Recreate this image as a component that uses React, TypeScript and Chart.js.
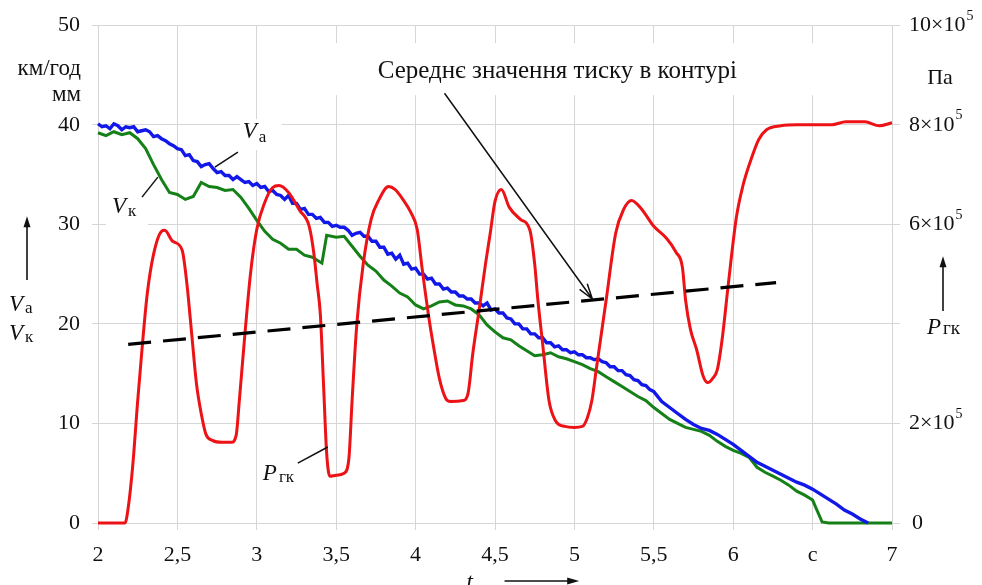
import React, { useEffect, useRef } from "react";
import { Chart, registerables } from "chart.js";

Chart.register(...registerables);

const SERIF = "'Liberation Serif', 'Times New Roman', serif";
const GRID = "#d6d6d6";
const RED = "rgb(236, 18, 22)";
const BLUE = "rgb(18, 24, 232)";
const GREEN = "rgb(22, 128, 24)";

// Vehicle speed V_а, km/h, against time t, s
const vehicleSpeed: [number, number][] = [
  [2.0, 40.1], [2.025, 39.8], [2.05, 39.9], [2.075, 39.6], [2.1, 40.1], [2.125, 39.9],
  [2.15, 39.5], [2.175, 39.8], [2.2, 39.7], [2.225, 39.8], [2.25, 39.3], [2.275, 39.4],
  [2.3, 39.5], [2.325, 39.3], [2.35, 38.8], [2.375, 38.9], [2.4, 38.6], [2.425, 38.4],
  [2.45, 38.1], [2.475, 37.9], [2.5, 37.6], [2.525, 37.5], [2.55, 36.9], [2.575, 37.0],
  [2.6, 36.4], [2.625, 36.3], [2.65, 35.8], [2.675, 36.0], [2.7, 36.1], [2.725, 35.6],
  [2.75, 35.2], [2.775, 35.3], [2.8, 34.9], [2.825, 34.9], [2.85, 34.5], [2.875, 34.8],
  [2.9, 34.5], [2.925, 34.2], [2.95, 34.3], [2.975, 33.9], [3.0, 34.1], [3.025, 33.7],
  [3.05, 33.8], [3.075, 33.3], [3.1, 33.4], [3.125, 33.0], [3.15, 32.9], [3.175, 32.5],
  [3.2, 32.9], [3.225, 32.1], [3.25, 32.1], [3.275, 31.5], [3.3, 31.6], [3.325, 31.0],
  [3.35, 31.0], [3.375, 30.6], [3.4, 30.7], [3.425, 30.2], [3.45, 30.2], [3.475, 29.8],
  [3.5, 29.9], [3.525, 29.7], [3.55, 29.7], [3.575, 29.4], [3.6, 28.9], [3.625, 29.1],
  [3.65, 29.2], [3.675, 28.8], [3.7, 28.8], [3.725, 28.3], [3.75, 28.3], [3.775, 27.7],
  [3.8, 27.7], [3.825, 27.0], [3.85, 27.1], [3.875, 26.5], [3.9, 26.9], [3.925, 26.0],
  [3.95, 26.1], [3.975, 25.5], [4.0, 25.6], [4.025, 25.0], [4.05, 25.0], [4.075, 24.5],
  [4.1, 24.6], [4.125, 24.0], [4.15, 24.0], [4.175, 23.5], [4.2, 23.6], [4.225, 23.2],
  [4.25, 23.2], [4.275, 22.8], [4.3, 22.8], [4.325, 22.5], [4.35, 22.5], [4.375, 22.1],
  [4.4, 22.1], [4.425, 21.8], [4.45, 22.1], [4.475, 21.4], [4.5, 21.5], [4.525, 21.1],
  [4.55, 21.1], [4.575, 20.6], [4.6, 20.5], [4.625, 20.0], [4.65, 20.0], [4.675, 19.5],
  [4.7, 19.5], [4.725, 19.0], [4.75, 19.0], [4.775, 18.6], [4.8, 18.6], [4.825, 18.1],
  [4.85, 18.1], [4.875, 17.7], [4.9, 17.8], [4.925, 17.4], [4.95, 17.4], [4.975, 17.1],
  [5.0, 17.2], [5.025, 16.9], [5.05, 16.9], [5.075, 16.6], [5.1, 16.6], [5.125, 16.4],
  [5.15, 16.5], [5.175, 16.2], [5.2, 16.1], [5.225, 15.7], [5.25, 15.7], [5.275, 15.3],
  [5.3, 15.3], [5.325, 14.9], [5.35, 14.8], [5.375, 14.4], [5.4, 14.3], [5.425, 13.9],
  [5.45, 13.8], [5.475, 13.4], [5.5, 13.2], [5.55, 12.2], [5.6, 11.6], [5.65, 11.0],
  [5.7, 10.4], [5.75, 9.9], [5.8, 9.5], [5.85, 9.3], [5.9, 8.9], [5.95, 8.4],
  [6.0, 7.9], [6.05, 7.3], [6.1, 6.7], [6.15, 6.1], [6.2, 5.7], [6.25, 5.3],
  [6.3, 4.9], [6.35, 4.5], [6.4, 4.1], [6.45, 3.8], [6.5, 3.4], [6.55, 2.9],
  [6.6, 2.4], [6.65, 1.9], [6.7, 1.3], [6.75, 0.9], [6.8, 0.4], [6.85, 0.0],
];

// Wheel speed V_к, km/h
const wheelSpeed: [number, number][] = [
  [2.0, 39.2], [2.05, 38.9], [2.1, 39.3], [2.15, 39.0], [2.2, 39.2], [2.25, 38.6],
  [2.3, 37.6], [2.35, 36.0], [2.4, 34.5], [2.45, 33.2], [2.5, 33.0], [2.55, 32.5],
  [2.6, 32.8], [2.65, 34.2], [2.7, 33.8], [2.75, 33.7], [2.8, 33.4], [2.85, 33.5],
  [2.9, 32.7], [2.95, 31.6], [3.0, 30.4], [3.05, 29.3], [3.1, 28.5], [3.15, 28.1],
  [3.2, 27.5], [3.25, 27.5], [3.3, 26.9], [3.35, 26.7], [3.41, 26.1], [3.44, 28.9],
  [3.5, 28.7], [3.55, 28.8], [3.6, 27.8], [3.65, 26.8], [3.7, 25.9], [3.75, 25.3],
  [3.8, 24.4], [3.85, 23.8], [3.9, 23.1], [3.95, 22.7], [4.0, 21.9], [4.05, 21.5],
  [4.1, 21.8], [4.15, 22.2], [4.2, 22.3], [4.25, 21.9], [4.3, 21.8], [4.35, 21.5],
  [4.4, 20.9], [4.45, 19.9], [4.5, 19.2], [4.55, 18.6], [4.6, 18.4], [4.65, 17.8],
  [4.7, 17.3], [4.75, 16.8], [4.8, 16.9], [4.85, 17.1], [4.9, 16.7], [4.95, 16.5],
  [5.0, 16.2], [5.05, 15.9], [5.1, 15.5], [5.15, 15.2], [5.2, 14.7], [5.25, 14.2],
  [5.3, 13.7], [5.35, 13.2], [5.4, 12.7], [5.45, 12.3], [5.5, 11.6], [5.55, 11.0],
  [5.6, 10.4], [5.65, 10.0], [5.7, 9.6], [5.75, 9.4], [5.8, 9.2], [5.85, 8.8],
  [5.9, 8.2], [5.95, 7.7], [6.0, 7.3], [6.05, 7.0], [6.1, 6.6], [6.15, 5.6],
  [6.2, 5.1], [6.25, 4.7], [6.3, 4.3], [6.35, 3.8], [6.4, 3.2], [6.45, 2.8],
  [6.5, 2.3], [6.53, 1.2], [6.56, 0.1], [6.6, 0.0], [7.0, 0.0],
];

// Brake circuit pressure P_гк, ×10^5 Pa
const circuitPressure: [number, number][] = [
  [2.0, 0.0], [2.17, 0.0], [2.19, 0.3], [2.22, 1.2], [2.25, 2.46], [2.28, 3.6],
  [2.31, 4.6], [2.35, 5.4], [2.4, 5.86], [2.42, 5.88], [2.47, 5.66], [2.53, 5.48],
  [2.56, 4.8], [2.59, 3.8], [2.62, 2.8], [2.65, 2.2], [2.68, 1.78], [2.72, 1.66],
  [2.78, 1.62], [2.84, 1.62], [2.87, 1.76], [2.89, 2.46], [2.92, 3.6], [2.96, 5.0],
  [3.0, 5.9], [3.05, 6.44], [3.1, 6.74], [3.14, 6.78], [3.2, 6.64], [3.27, 6.28],
  [3.33, 5.96], [3.36, 5.4], [3.38, 4.8], [3.4, 4.2], [3.42, 2.8], [3.44, 1.4],
  [3.46, 0.94], [3.5, 0.96], [3.55, 1.0], [3.58, 1.3], [3.6, 2.46], [3.63, 4.0],
  [3.67, 5.2], [3.72, 6.1], [3.77, 6.5], [3.83, 6.76], [3.87, 6.7], [3.92, 6.5],
  [3.97, 6.24], [4.01, 5.9], [4.04, 5.14], [4.08, 4.2], [4.11, 3.6], [4.15, 2.9],
  [4.19, 2.5], [4.22, 2.44], [4.3, 2.46], [4.33, 2.6], [4.36, 3.4], [4.4, 4.28],
  [4.44, 5.2], [4.47, 5.82], [4.5, 6.46], [4.54, 6.7], [4.59, 6.34], [4.66, 6.1],
  [4.72, 5.88], [4.75, 5.2], [4.77, 4.48], [4.8, 3.6], [4.84, 2.46], [4.88, 2.06],
  [4.94, 1.94], [5.0, 1.92], [5.05, 1.94], [5.08, 2.1], [5.11, 2.46], [5.14, 3.14],
  [5.2, 4.48], [5.26, 5.82], [5.31, 6.3], [5.36, 6.48], [5.42, 6.32], [5.5, 5.96],
  [5.58, 5.72], [5.64, 5.44], [5.68, 5.14], [5.7, 4.48], [5.73, 3.9], [5.77, 3.48],
  [5.81, 2.96], [5.84, 2.82], [5.87, 2.9], [5.9, 3.08], [5.93, 3.68], [5.97, 4.82],
  [6.02, 6.14], [6.06, 6.76], [6.11, 7.28], [6.16, 7.7], [6.21, 7.9], [6.3, 7.98],
  [6.4, 8.0], [6.5, 8.0], [6.62, 8.0], [6.71, 8.06], [6.83, 8.06], [6.92, 7.98],
  [7.0, 8.04],
];

// Mean circuit pressure, ×10^5 Pa
const meanPressure: [number, number][] = [
  [2.19, 3.59],
  [6.27, 4.83],
];

// Right-hand axis labels: value, mantissa (exponent 5 drawn raised)
const pressureTickLabels: [number, string][] = [
  [10, "10×10"],
  [8, "8×10"],
  [6, "6×10"],
  [2, "2×10"],
  [0, "0"],
];

const toXY = (pts: [number, number][]) => pts.map(([x, y]) => ({ x, y }));

const formatTime = (v: number) => {
  if (Math.abs(v - 6.5) < 1e-6) return "c";
  return Number.isInteger(v) ? String(v) : v.toFixed(1).replace(".", ",");
};

function arrowFilled(ctx: CanvasRenderingContext2D, x1: number, y1: number, x2: number, y2: number, len = 11, half = 3.5) {
  const a = Math.atan2(y2 - y1, x2 - x1);
  ctx.beginPath();
  ctx.moveTo(x1, y1);
  ctx.lineTo(x2 - len * 0.6 * Math.cos(a), y2 - len * 0.6 * Math.sin(a));
  ctx.stroke();
  ctx.beginPath();
  ctx.moveTo(x2, y2);
  ctx.lineTo(x2 - len * Math.cos(a) + half * Math.sin(a), y2 - len * Math.sin(a) - half * Math.cos(a));
  ctx.lineTo(x2 - len * Math.cos(a) - half * Math.sin(a), y2 - len * Math.sin(a) + half * Math.cos(a));
  ctx.closePath();
  ctx.fill();
}

function arrowOpen(ctx: CanvasRenderingContext2D, x1: number, y1: number, x2: number, y2: number, len = 16, spread = 0.3) {
  const a = Math.atan2(y2 - y1, x2 - x1);
  ctx.beginPath();
  ctx.moveTo(x1, y1);
  ctx.lineTo(x2, y2);
  ctx.moveTo(x2 - len * Math.cos(a - spread), y2 - len * Math.sin(a - spread));
  ctx.lineTo(x2, y2);
  ctx.lineTo(x2 - len * Math.cos(a + spread), y2 - len * Math.sin(a + spread));
  ctx.stroke();
}

function subLabel(ctx: CanvasRenderingContext2D, x: number, y: number, main: string, sub: string, mainSize: number, subSize: number, drop: number, italicMain = true) {
  ctx.font = `${italicMain ? "italic " : ""}${mainSize}px ${SERIF}`;
  ctx.fillText(main, x, y);
  const w = ctx.measureText(main).width;
  ctx.font = `${subSize}px ${SERIF}`;
  ctx.fillText(sub, x + w + 2, y + drop);
}

const annotationPlugin = {
  id: "brakeAnnotations",
  beforeDatasetsDraw(chart: any) {
    const { ctx, scales } = chart;
    const x = scales.x;
    const y = scales.y;
    const box = (t1: number, v1: number, t2: number, v2: number) => {
      const px1 = x.getPixelForValue(t1);
      const px2 = x.getPixelForValue(t2);
      const py1 = y.getPixelForValue(v1);
      const py2 = y.getPixelForValue(v2);
      ctx.fillRect(px1, py1, px2 - px1, py2 - py1);
    };
    ctx.save();
    ctx.fillStyle = "#ffffff";
    box(3.27, 48.2, 6.79, 42.97);
    box(2.893, 40.56, 3.157, 37.45);
    box(2.05, 33.23, 2.314, 29.22);
    ctx.restore();
  },
  afterDraw(chart: any) {
    const { ctx, scales, chartArea } = chart;
    const x = scales.x;
    const y = scales.y;
    const p = scales.p;
    const X = (t: number) => x.getPixelForValue(t);
    const Y = (v: number) => y.getPixelForValue(v);
    ctx.save();
    ctx.fillStyle = "#111";
    ctx.strokeStyle = "#111";
    ctx.textBaseline = "alphabetic";
    ctx.textAlign = "left";

    // right axis labels with raised exponent
    const rx = chartArea.right + 17;
    ctx.textBaseline = "middle";
    for (const [v, m] of pressureTickLabels) {
      const py = p.getPixelForValue(v);
      ctx.font = `22px ${SERIF}`;
      ctx.fillText(m, rx + (m === "0" ? 3 : 0), py);
      if (m !== "0") {
        const w = ctx.measureText(m).width;
        ctx.font = `14px ${SERIF}`;
        ctx.fillText("5", rx + w + 1, py - 9);
      }
    }
    ctx.font = `22px ${SERIF}`;
    ctx.textAlign = "center";
    ctx.fillText("Па", chartArea.right + 48, Y(44.7));

    // left axis units
    ctx.textAlign = "right";
    ctx.font = `23px ${SERIF}`;
    ctx.fillText("км/год", chartArea.left - 17, Y(45.6));
    ctx.fillText("мм", chartArea.left - 17, Y(43.0));

    ctx.textAlign = "left";
    ctx.textBaseline = "alphabetic";
    ctx.lineWidth = 1.6;

    // left axis quantity
    arrowFilled(ctx, 27, Y(24.4), 27, Y(30.8));
    subLabel(ctx, 9, Y(21.3), "V", "а", 23, 17, 2);
    subLabel(ctx, 9, Y(18.4), "V", "к", 23, 17, 2);

    // right axis quantity
    arrowFilled(ctx, chartArea.right + 51, Y(21.3), chartArea.right + 51, Y(26.8));
    subLabel(ctx, chartArea.right + 35, Y(19.0), "P", "гк", 23, 19, 0);

    // time axis
    ctx.font = `italic 23px ${SERIF}`;
    ctx.fillText("t", X(4.32), chartArea.bottom + 66);
    arrowFilled(ctx, X(4.56), chartArea.bottom + 58, X(5.03), chartArea.bottom + 58, 12, 3.5);

    // curve labels with leaders
    ctx.lineWidth = 1.5;
    subLabel(ctx, X(2.912), Y(38.65), "V", "а", 23, 17, 4);
    ctx.beginPath();
    ctx.moveTo(X(2.881), Y(37.25));
    ctx.lineTo(X(2.736), Y(35.74));
    ctx.stroke();

    subLabel(ctx, X(2.088), Y(31.12), "V", "к", 23, 17, 3);
    ctx.beginPath();
    ctx.moveTo(X(2.277), Y(32.73));
    ctx.lineTo(X(2.377), Y(34.74));
    ctx.stroke();

    subLabel(ctx, X(3.038), Y(4.32), "P", "гк", 23, 17, 2);
    ctx.beginPath();
    ctx.moveTo(X(3.258), Y(6.02));
    ctx.lineTo(X(3.447), Y(7.63));
    ctx.stroke();

    // mean pressure caption and pointer
    ctx.font = `25px ${SERIF}`;
    ctx.fillText("Середнє значення тиску в контурі", X(3.761), Y(44.68));
    ctx.lineWidth = 1.5;
    arrowOpen(ctx, X(4.182), Y(43.17), X(5.113), Y(22.5));

    ctx.restore();
  },
};

export default function App() {
  const canvasRef = useRef<HTMLCanvasElement | null>(null);

  useEffect(() => {
    const canvas = canvasRef.current;
    if (!canvas) return;
    const tickFont = { family: SERIF, size: 22 };
    const chart = new Chart(canvas, {
      type: "line",
      data: {
        datasets: [
          {
            label: "Середнє значення тиску",
            data: toXY(meanPressure),
            yAxisID: "p",
            borderColor: "#000",
            borderWidth: 3.2,
            borderDash: [23, 12],
            pointRadius: 0,
            order: 0,
            clip: false,
          },
          {
            label: "P гк",
            data: toXY(circuitPressure),
            yAxisID: "p",
            borderColor: RED,
            borderWidth: 3,
            pointRadius: 0,
            cubicInterpolationMode: "monotone",
            order: 1,
            clip: false,
          },
          {
            label: "V а",
            data: toXY(vehicleSpeed),
            yAxisID: "y",
            borderColor: BLUE,
            borderWidth: 3.4,
            pointRadius: 0,
            order: 2,
            clip: false,
          },
          {
            label: "V к",
            data: toXY(wheelSpeed),
            yAxisID: "y",
            borderColor: GREEN,
            borderWidth: 3,
            pointRadius: 0,
            order: 3,
            clip: false,
          },
        ],
      } as any,
      options: {
        responsive: false,
        animation: false,
        events: [],
        layout: { padding: { top: 25, left: 0, right: 0, bottom: 0 } },
        plugins: {
          legend: { display: false },
          tooltip: { enabled: false },
        },
        scales: {
          x: {
            type: "linear",
            min: 2,
            max: 7,
            ticks: {
              stepSize: 0.5,
              autoSkip: false,
              maxRotation: 0,
              padding: 12,
              color: "#111",
              font: tickFont,
              callback: (v: any) => formatTime(Number(v)),
            },
            grid: { color: GRID, lineWidth: 1, tickLength: 7 },
            border: { color: GRID },
            afterFit: (s: any) => {
              s.height = 62;
            },
          },
          y: {
            position: "left",
            min: 0,
            max: 50,
            ticks: { stepSize: 10, padding: 12, color: "#111", font: tickFont },
            grid: { color: GRID, lineWidth: 1, tickLength: 6 },
            border: { color: GRID },
            afterFit: (s: any) => {
              s.width = 98;
            },
          },
          p: {
            position: "right",
            min: 0,
            max: 10,
            ticks: { stepSize: 2, callback: () => "" },
            grid: { drawOnChartArea: false, color: GRID, lineWidth: 1, tickLength: 8 },
            border: { color: GRID },
            afterFit: (s: any) => {
              s.width = 90;
            },
          },
        },
      } as any,
      plugins: [annotationPlugin],
    });
    return () => chart.destroy();
  }, []);

  return (
    <div style={{ position: "fixed", left: 0, top: 0, width: 982, height: 585, background: "#fff" }}>
      <canvas ref={canvasRef} width={982} height={585} />
    </div>
  );
}
